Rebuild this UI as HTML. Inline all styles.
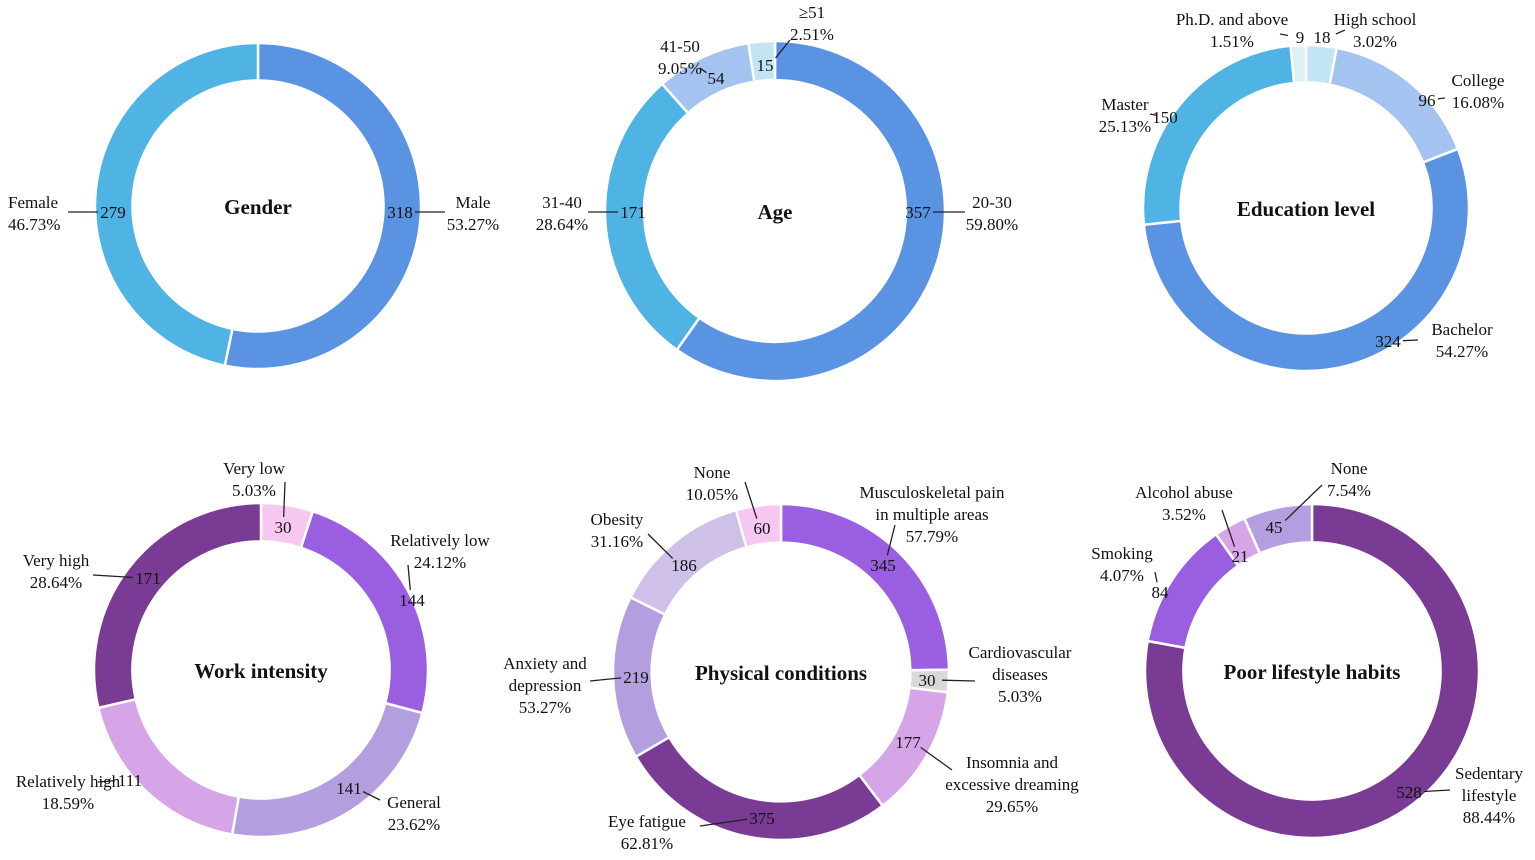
<!DOCTYPE html>
<html><head><meta charset="utf-8"><style>
body{margin:0;background:#fff;}
svg{display:block;font-family:"Liberation Serif",serif;}
</style></head><body>
<svg id="c" width="1535" height="860" viewBox="0 0 1535 860"></svg>
<script>
// ---- data ----
const genderCats=["Male","Female"];
const genderVals=[318,279];
const genderPct=["53.27%","46.73%"];
const ageCats=["20-30","31-40","41-50","≥51"];
const ageVals=[357,171,54,15];
const agePct=["59.80%","28.64%","9.05%","2.51%"];
const eduCats=["High school","College","Bachelor","Master","Ph.D. and above"];
const eduVals=[18,96,324,150,9];
const eduPct=["3.02%","16.08%","54.27%","25.13%","1.51%"];
const workCats=["Very low","Relatively low","General","Relatively high","Very high"];
const workVals=[30,144,141,111,171];
const workPct=["5.03%","24.12%","23.62%","18.59%","28.64%"];
const physCats=["Musculoskeletal pain in multiple areas","Cardiovascular diseases","Insomnia and excessive dreaming","Eye fatigue","Anxiety and depression","Obesity","None"];
const physVals=[345,30,177,375,219,186,60];
const physPct=["57.79%","5.03%","29.65%","62.81%","53.27%","31.16%","10.05%"];
const lifeCats=["Sedentary lifestyle","Smoking","Alcohol abuse","None"];
const lifeVals=[528,84,21,45];
const lifePct=["88.44%","4.07%","3.52%","7.54%"];

// ---- layout (not data): label text positions, value label positions, leader end points ----
const charts=[
 {name:"gender",title:"Gender",cx:258,cy:206,R:163,cats:genderCats,vals:genderVals,pct:genderPct,
  colors:["#5b93e3","#4fb3e3"],
  labels:[{x:473,y:208,a:"middle",t:["Male"],e:[445,212],v:[400,212]},{x:8,y:208,a:"start",t:["Female"],e:[68,212],v:[113,212]}]},
 {name:"age",title:"Age",cx:775,cy:211,R:170,cats:ageCats,vals:ageVals,pct:agePct,
  colors:["#5b93e3","#4fb3e3","#a4c3f0","#c3e4f3"],
  labels:[{x:992,y:208,a:"middle",t:["20-30"],e:[965,212],v:[918,212]},{x:562,y:208,a:"middle",t:["31-40"],e:[588,212],v:[633,212]},
          {x:680,y:52,a:"middle",t:["41-50"],e:[700,68],v:[716,78]},{x:812,y:18,a:"middle",t:["≥51"],e:[790,40],v:[765,65]}]},
 {name:"education",title:"Education level",cx:1306,cy:208,R:163,cats:eduCats,vals:eduVals,pct:eduPct,
  colors:["#c3e4f3","#a4c3f0","#5b93e3","#4fb3e3","#ddf0f5"],
  labels:[{x:1375,y:25,a:"middle",t:["High school"],e:[1345,30],v:[1322,37]},{x:1478,y:86,a:"middle",t:["College"],e:[1445,98],v:[1427,100]},
          {x:1462,y:335,a:"middle",t:["Bachelor"],e:[1418,340],v:[1388,341]},{x:1125,y:110,a:"middle",t:["Master"],e:[1150,114],v:[1165,117]},
          {x:1232,y:25,a:"middle",t:["Ph.D. and above"],e:[1280,34],v:[1300,37]}]},
 {name:"work-intensity",title:"Work intensity",cx:261,cy:670,R:167,cats:workCats,vals:workVals,pct:workPct,
  colors:["#f6c8f1","#9a5fe0","#b39edf","#d6a5e8","#7a3b94"],
  labels:[{x:254,y:474,a:"middle",t:["Very low"],e:[285,482],v:[283,527]},{x:440,y:546,a:"middle",t:["Relatively low"],e:[408,565],v:[412,600]},
          {x:414,y:808,a:"middle",t:["General"],e:[380,800],v:[349,788]},{x:68,y:787,a:"middle",t:["Relatively high"],e:[98,782],v:[130,780]},
          {x:56,y:566,a:"middle",t:["Very high"],e:[93,575],v:[148,578]}]},
 {name:"physical-conditions",title:"Physical conditions",cx:781,cy:672,R:168,cats:physCats,vals:physVals,pct:physPct,
  colors:["#9a5fe0","#d9d9d9","#d6a5e8","#7a3b94","#b39edf","#cfc0e8","#f6c8f1"],
  labels:[{x:932,y:498,a:"middle",t:["Musculoskeletal pain","in multiple areas"],e:[895,525],v:[883,565]},
          {x:1020,y:658,a:"middle",t:["Cardiovascular","diseases"],e:[975,681],v:[927,680]},
          {x:1012,y:768,a:"middle",t:["Insomnia and","excessive dreaming"],e:[952,770],v:[908,742]},
          {x:647,y:827,a:"middle",t:["Eye fatigue"],e:[700,826],v:[762,818]},
          {x:545,y:669,a:"middle",t:["Anxiety and","depression"],e:[590,681],v:[636,677]},
          {x:617,y:525,a:"middle",t:["Obesity"],e:[648,534],v:[684,565]},
          {x:712,y:478,a:"middle",t:["None"],e:[745,482],v:[762,528]}]},
 {name:"poor-lifestyle-habits",title:"Poor lifestyle habits",cx:1312,cy:671,R:167,cats:lifeCats,vals:lifeVals,pct:lifePct,
  colors:["#7a3b94","#9a5fe0","#d6a5e8","#b39edf"],
  labels:[{x:1489,y:779,a:"middle",t:["Sedentary","lifestyle"],e:[1450,790],v:[1409,792]},{x:1122,y:559,a:"middle",t:["Smoking"],e:[1155,572],v:[1160,592]},
          {x:1184,y:498,a:"middle",t:["Alcohol abuse"],e:[1222,510],v:[1240,556]},{x:1349,y:474,a:"middle",t:["None"],e:[1322,485],v:[1274,527]}]}
];
const NS="http://www.w3.org/2000/svg";
const svg=document.getElementById('c');
function mk(tag,attrs,parent){const e=document.createElementNS(NS,tag);for(const k in attrs)e.setAttribute(k,attrs[k]);parent.appendChild(e);return e;}
function pt(cx,cy,r,a){return [cx+r*Math.sin(a),cy-r*Math.cos(a)];}
charts.forEach(ch=>{
  const g=mk('g',{},svg);
  
  
  const total=ch.vals.reduce((a,b)=>a+b,0);
  const r0=ch.R*0.77, R=ch.R;
  let acc=0;
  const texts=[];
  ch.vals.forEach((v,i)=>{
    const a0=acc/total*2*Math.PI; acc+=v; const a1=acc/total*2*Math.PI;
    const large=(a1-a0)>Math.PI?1:0;
    const p1=pt(ch.cx,ch.cy,R,a0),p2=pt(ch.cx,ch.cy,R,a1),p3=pt(ch.cx,ch.cy,r0,a1),p4=pt(ch.cx,ch.cy,r0,a0);
    const d=`M${p1[0]},${p1[1]}A${R},${R} 0 ${large} 1 ${p2[0]},${p2[1]}L${p3[0]},${p3[1]}A${r0},${r0} 0 ${large} 0 ${p4[0]},${p4[1]}Z`;
    const s=mk('path',{d:d,fill:ch.colors[i],stroke:'#fff','stroke-width':2.5},g);
    
    
    const L=ch.labels[i];
    const vp=L.v;
    const dx=L.e[0]-vp[0], dy=L.e[1]-vp[1], dl=Math.hypot(dx,dy)||1;
    const off=Math.min(15,dl*0.6);
    const sp=[vp[0]+dx/dl*off, vp[1]+dy/dl*(Math.min(10,dl*0.6))];
    const ln=mk('line',{x1:sp[0],y1:sp[1],x2:L.e[0],y2:L.e[1],stroke:'#222','stroke-width':1.3},g);
    
    
    texts.push([v,vp,i,L]);
  });
  texts.forEach(([v,vp,i,L])=>{
    const vt=mk('text',{x:vp[0],y:vp[1]+6,'text-anchor':'middle','font-size':17,fill:'#111'},g);
    vt.textContent=v;
    
    
    const lines=L.t.concat([ch.pct[i]]);
    lines.forEach((t,k)=>{
      const tx=mk('text',{x:L.x,y:L.y+k*22,'text-anchor':L.a,'font-size':17,fill:'#111'},g);
      tx.textContent=t;
      
      
    });
  });
  const tt=mk('text',{x:ch.cx,y:ch.cy+8,'text-anchor':'middle','font-size':21,'font-weight':'bold',fill:'#111'},g);
  tt.textContent=ch.title;
  
  
});
</script>
</body></html>
